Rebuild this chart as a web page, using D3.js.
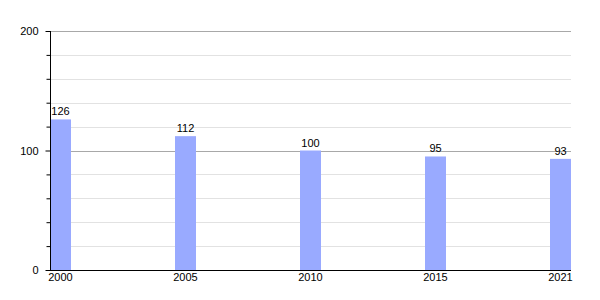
<!DOCTYPE html>
<html><head><meta charset="utf-8">
<script src="https://cdn.jsdelivr.net/npm/d3@7"></script>
<style>body{margin:0;background:#fff}svg{display:block}text{font-family:"Liberation Sans",Arial,sans-serif;font-size:11px;fill:#000}</style>
</head><body><svg id="c" width="600" height="300"></svg>
<script>
const years = ["2000","2005","2010","2015","2021"];
const values = [126,112,100,95,93];
const majorTicks = [0,100,200];
const minorTicks = [20,40,60,80,120,140,160,180];

(function(){
const svg = d3.select("#c");
const mLeft = 50, mRight = 571, mTop = 31, mBottom = 270;
const barW = 21;
const y = d3.scaleLinear().domain([0,200]).range([mBottom, mTop]);
const x = d3.scalePoint().domain(years).range([mLeft, mRight - barW]);

svg.append("g").selectAll("line").data(minorTicks).join("line")
  .attr("x1", mLeft).attr("x2", mRight)
  .attr("y1", d => Math.round(y(d))+0.5).attr("y2", d => Math.round(y(d))+0.5)
  .attr("stroke", "#e2e2e2");
svg.append("g").selectAll("line").data(majorTicks.filter(d=>d>0)).join("line")
  .attr("x1", mLeft).attr("x2", mRight)
  .attr("y1", d => Math.round(y(d))+0.5).attr("y2", d => Math.round(y(d))+0.5)
  .attr("stroke", "#a8a8a8");

svg.append("g").selectAll("rect").data(values).join("rect")
  .attr("x", (d,i) => x(years[i]))
  .attr("y", d => y(d))
  .attr("width", barW)
  .attr("height", d => mBottom - y(d))
  .attr("fill", "#99aaff");

svg.append("g").selectAll("text").data(values).join("text")
  .attr("x", (d,i) => x(years[i]) + barW/2)
  .attr("y", d => y(d) - 4)
  .attr("text-anchor", "middle")
  .text(d => d);

const yAxis = d3.axisLeft(y).tickValues(majorTicks).tickSize(5).tickPadding(7).tickFormat(d3.format("d"));
const ga = svg.append("g").attr("transform", `translate(${mLeft+0.5},0)`).call(yAxis);
ga.select(".domain").remove();
ga.selectAll("line").attr("stroke", "#000");
ga.selectAll("text").style("font-size","11px").attr("fill","#000").style("font-family","'Liberation Sans',Arial,sans-serif");
const yMinor = d3.axisLeft(y).tickValues(minorTicks).tickSize(4).tickFormat("");
const gm = svg.append("g").attr("transform", `translate(${mLeft+0.5},0)`).call(yMinor);
gm.select(".domain").remove();
gm.selectAll("line").attr("stroke", "#000");
svg.append("line").attr("x1", mLeft+0.5).attr("x2", mLeft+0.5).attr("y1", mTop).attr("y2", mBottom).attr("stroke","#000");

svg.append("line").attr("x1", mLeft).attr("x2", mRight).attr("y1", mBottom+0.5).attr("y2", mBottom+0.5).attr("stroke","#000");
svg.append("g").selectAll("text").data(years).join("text")
  .attr("x", d => x(d) + barW/2)
  .attr("y", mBottom + 11)
  .attr("text-anchor", "middle")
  .text(d => d);
})();
</script></body></html>
